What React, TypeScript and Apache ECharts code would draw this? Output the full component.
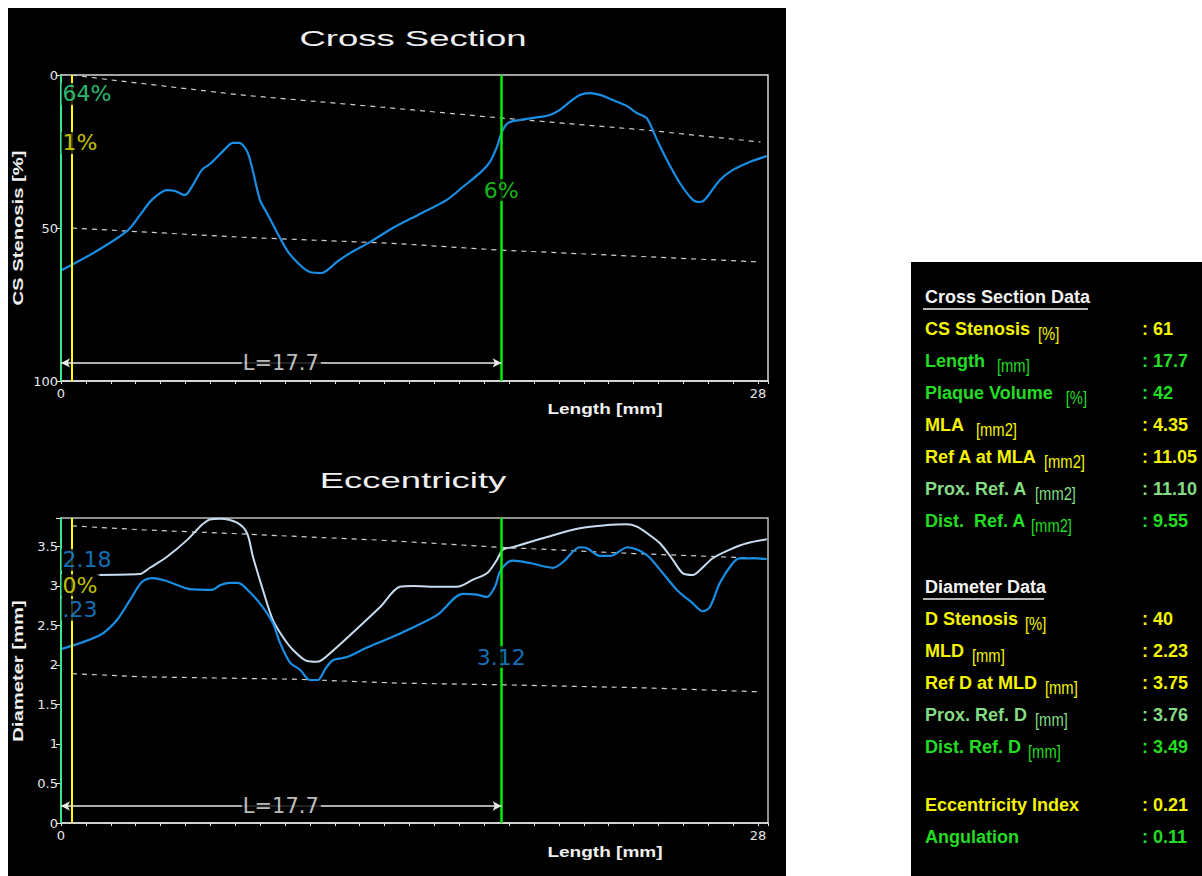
import React, { useEffect, useRef } from 'react';
import * as echarts from 'echarts';

// ---------------- DATA ----------------
// Cross Section chart: [length mm, CS stenosis %]
const csStenosisProfile: [number, number][] = [
  [0, 63.9], [1.29, 58.2], [2.65, 51.0], [3.17, 45.8], [3.65, 40.8], [4.26, 37.6], [4.58, 37.9], [4.98, 39.2],
  [5.30, 35.9], [5.66, 31.0], [5.98, 29.1], [6.47, 25.2], [6.91, 22.2], [7.15, 22.2], [7.51, 25.5], [7.99, 40.8],
  [8.27, 45.1], [8.80, 53.3], [9.12, 57.8], [9.60, 62.1], [10.00, 64.4], [10.48, 64.7], [10.80, 63.1], [11.08, 61.1],
  [11.61, 58.2], [12.41, 54.6], [13.33, 50.0], [14.42, 45.4], [15.50, 40.8], [16.14, 36.6], [16.83, 32.0], [17.23, 28.4],
  [17.51, 23.5], [17.71, 18.6], [17.95, 15.7], [18.43, 14.7], [19.24, 13.7], [19.64, 13.1], [20.04, 11.4], [20.44, 8.8],
  [20.84, 6.5], [21.24, 5.9], [21.65, 6.5], [22.17, 8.2], [22.73, 10.1], [23.13, 12.4], [23.53, 14.1], [23.94, 21.2],
  [24.34, 27.8], [24.86, 35.3], [25.38, 40.8], [25.66, 41.5], [25.86, 40.8], [26.47, 34.3], [26.99, 31.0], [27.67, 28.4],
  [28.35, 26.5],
];
const csRefUpper: [number, number][] = [[0.44, 0], [2.0, 1.6], [7.2, 6.5], [13.3, 10.8], [17.6, 14.0], [23.5, 18.0], [28.1, 21.9]];
const csRefLower: [number, number][] = [[0.44, 50], [2.65, 51], [7.2, 53], [13.3, 55], [17.6, 57.2], [23.0, 59.2], [28.1, 61.1]];

// Eccentricity chart: [length mm, diameter mm]
const maxDiameterProfile: [number, number][] = [
  [1.45, 3.14], [3.17, 3.15], [3.57, 3.23], [4.26, 3.37], [5.06, 3.58], [5.58, 3.75], [5.98, 3.84], [6.39, 3.85],
  [7.07, 3.80], [7.47, 3.67], [7.71, 3.37], [8.11, 2.95], [8.51, 2.57], [8.92, 2.35], [9.32, 2.19], [9.88, 2.05],
  [10.28, 2.04], [10.60, 2.09], [12.81, 2.73], [13.61, 2.99], [14.14, 3.00], [14.82, 2.99], [15.90, 2.99], [16.55, 3.08],
  [17.11, 3.16], [17.51, 3.33], [17.75, 3.46], [18.15, 3.49], [19.52, 3.62], [20.84, 3.73], [21.93, 3.77], [22.73, 3.78],
  [23.13, 3.75], [23.53, 3.67], [24.06, 3.54], [24.58, 3.33], [24.98, 3.16], [25.38, 3.14], [25.66, 3.20], [26.18, 3.35],
  [26.87, 3.46], [27.55, 3.54], [28.35, 3.59],
];
const minDiameterProfile: [number, number][] = [
  [0, 2.20], [1.57, 2.38], [2.25, 2.57], [2.77, 2.82], [3.25, 3.05], [3.69, 3.10], [4.26, 3.06], [5.18, 2.96],
  [6.06, 2.95], [6.39, 3.01], [6.79, 3.04], [7.11, 3.04], [7.59, 2.92], [8.11, 2.73], [8.51, 2.53], [8.80, 2.28],
  [9.20, 2.03], [9.60, 1.94], [10.00, 1.81], [10.32, 1.81], [10.60, 1.94], [10.92, 2.06], [11.49, 2.10], [12.29, 2.22],
  [13.21, 2.34], [13.90, 2.44], [15.10, 2.63], [16.14, 2.90], [16.71, 2.89], [17.11, 2.86], [17.43, 2.99], [17.63, 3.18],
  [17.91, 3.29], [18.15, 3.32], [18.84, 3.29], [19.76, 3.23], [20.16, 3.30], [20.84, 3.49], [21.12, 3.48], [21.65, 3.38],
  [22.05, 3.38], [22.77, 3.49], [23.53, 3.39], [24.18, 3.16], [24.74, 2.95], [25.38, 2.78], [25.78, 2.68], [26.06, 2.73],
  [26.47, 3.04], [26.99, 3.29], [27.27, 3.35], [27.95, 3.35], [28.35, 3.34],
];
const diamRefUpper: [number, number][] = [[0.44, 3.76], [3.3, 3.71], [6.4, 3.67], [12.8, 3.58], [17.6, 3.49], [23.0, 3.41], [28.1, 3.35]];
const diamRefLower: [number, number][] = [[0.44, 1.89], [3.3, 1.85], [9.32, 1.82], [13.6, 1.77], [17.6, 1.75], [23.5, 1.71], [28.1, 1.66]];

// markers (mm)
const startMarkerMm = 0;
const proxMarkerMm = 0.44;
const distMarkerMm = 17.7;
const lesionLengthLabel = 'L=17.7';
const csArrowLevel = 94.1;
const diamArrowLevel = 0.215;

// annotations
const csAnnotationTexts = ['64%', '1%', '6%', lesionLengthLabel];
const csAnnotationPos: [number, number][] = [[0, 6.2], [0, 22.2], [17.7, 37.6], [8.85, 94.1]];
const diamAnnotationTexts = ['2.18', '0%', '.23', '3.12', lesionLengthLabel];
const diamAnnotationPos: [number, number][] = [[0, 3.33], [0, 3.01], [0, 2.70], [17.7, 2.10], [8.85, 0.215]];

// tick labels
const xTickLabels = [0, 28];
const csTickLabels = [0, 50, 100];

// data table
const csDataTitle = 'Cross Section Data';
const csDataLabels = ['CS Stenosis', 'Length', 'Plaque Volume', 'MLA', 'Ref A at MLA', 'Prox. Ref. A', 'Dist.  Ref. A'];
const csDataUnits = ['[%]', '[mm]', '[%]', '[mm2]', '[mm2]', '[mm2]', '[mm2]'];
const csDataValues = ['61', '17.7', '42', '4.35', '11.05', '11.10', '9.55'];
const dDataTitle = 'Diameter Data';
const dDataLabels = ['D Stenosis', 'MLD', 'Ref D at MLD', 'Prox. Ref. D', 'Dist. Ref. D'];
const dDataUnits = ['[%]', '[mm]', '[mm]', '[mm]', '[mm]'];
const dDataValues = ['40', '2.23', '3.75', '3.76', '3.49'];
const extraLabels = ['Eccentricity Index', 'Angulation'];
const extraValues = ['0.21', '0.11'];

// ---------------- STYLE ----------------
const BLUE = '#1a8ee4';
const LIGHT = '#c8dcef';
const YELLOW = '#f4f400';
const GREEN = '#1ee61e';
const MINT = '#34e890';
const TGREEN = '#22dd22';
const TLIGHTGREEN = '#84dc84';
const AXIS = '#e6e6e6';
const DASH = '#cfcfcf';

const csRowColors = [YELLOW, TGREEN, TGREEN, YELLOW, YELLOW, TLIGHTGREEN, TGREEN];
const csUnitGaps = [8, 12, 13, 12, 7, 8, 5];
const dRowColors = [YELLOW, YELLOW, YELLOW, TLIGHTGREEN, TGREEN];
const dUnitGaps = [7, 8, 8, 8, 7];
const extraColors = [YELLOW, TGREEN];

const LABEL_FONT = 'bold 18px "Liberation Sans", Arial, sans-serif';
const UNIT_FONT = '18px "Liberation Sans", Arial, sans-serif';

function measure(text: string, font: string): number {
  const ctx = document.createElement('canvas').getContext('2d');
  if (!ctx) return text.length * 9;
  ctx.font = font;
  return ctx.measureText(text).width;
}

function buildTable(): any[] {
  const els: any[] = [];
  const lx = 925;
  const vx = 1142;
  const header = (text: string, y: number) => {
    const w = measure(text, LABEL_FONT);
    els.push({ type: 'text', x: lx, y, z: 10, style: { text, font: LABEL_FONT, fill: '#f4f4f4', textVerticalAlign: 'middle' } });
    els.push({ type: 'line', z: 10, shape: { x1: lx - 2, y1: y + 12, x2: lx + w - 2, y2: y + 12 }, style: { stroke: '#b4b4b4', lineWidth: 2 } });
  };
  const row = (label: string, unit: string | null, value: string, color: string, y: number, gap: number) => {
    els.push({ type: 'text', x: lx, y, z: 10, style: { text: label, font: LABEL_FONT, fill: color, textVerticalAlign: 'middle' } });
    if (unit) {
      const w = measure(label, LABEL_FONT);
      els.push({ type: 'text', x: lx + w + gap, y: y + 4, scaleX: 0.82, z: 10, style: { text: unit, font: UNIT_FONT, fill: color, textVerticalAlign: 'middle' } });
    }
    els.push({ type: 'text', x: vx, y, z: 10, style: { text: ': ' + value, font: LABEL_FONT, fill: color, textVerticalAlign: 'middle' } });
  };
  header(csDataTitle, 297);
  csDataLabels.forEach((l, i) => row(l, csDataUnits[i], csDataValues[i], csRowColors[i], 329 + 32 * i, csUnitGaps[i]));
  header(dDataTitle, 587);
  dDataLabels.forEach((l, i) => row(l, dDataUnits[i], dDataValues[i], dRowColors[i], 619 + 32 * i, dUnitGaps[i]));
  extraLabels.forEach((l, i) => row(l, null, extraValues[i], extraColors[i], 805 + 32 * i, 0));
  return els;
}

function xAxis(gridIndex: number) {
  return {
    type: 'value', gridIndex, min: 0, max: 28.4, interval: 1,
    axisLine: { show: true, onZero: false, lineStyle: { color: AXIS, width: 1.5 } },
    axisTick: { show: true, length: 3, lineStyle: { color: AXIS } },
    axisLabel: {
      color: AXIS, fontSize: 13, fontFamily: 'DejaVu Sans', margin: 6,
      formatter: (v: number) => (xTickLabels.indexOf(v) >= 0 ? String(v) : ''),
    },
    splitLine: { show: false },
  };
}

function dashed(name: string, data: [number, number][], xi: number) {
  return {
    type: 'line', name, xAxisIndex: xi, yAxisIndex: xi, data, symbol: 'none', silent: true, z: 2,
    lineStyle: { color: DASH, width: 1.2, type: [5, 5] },
  };
}

function markers(xi: number, yMin: number, yMax: number, arrowY: number) {
  return [
    {
      type: 'line', name: 'markers' + xi, xAxisIndex: xi, yAxisIndex: xi, data: [], z: 4, silent: true,
      markLine: {
        silent: true, symbol: 'none', animation: false, label: { show: false }, emphasis: { disabled: true },
        data: [
          [{ coord: [startMarkerMm, yMin], lineStyle: { color: MINT, width: 2, type: 'solid' } }, { coord: [startMarkerMm, yMax] }],
          [{ coord: [proxMarkerMm, yMin], lineStyle: { color: '#ffff00', width: 2, type: 'solid' } }, { coord: [proxMarkerMm, yMax] }],
          [{ coord: [distMarkerMm, yMin], lineStyle: { color: '#00ee00', width: 2.5, type: 'solid' } }, { coord: [distMarkerMm, yMax] }],
        ],
      },
    },
    {
      type: 'line', name: 'length' + xi, xAxisIndex: xi, yAxisIndex: xi, data: [], z: 4, silent: true,
      markLine: {
        silent: true, symbol: ['arrow', 'arrow'], symbolSize: [7, 9], animation: false, label: { show: false },
        emphasis: { disabled: true },
        lineStyle: { color: '#e8e8e8', width: 1.5, type: 'solid' },
        data: [[{ coord: [startMarkerMm, arrowY] }, { coord: [distMarkerMm, arrowY] }]],
      },
    },
  ];
}

function annotations(xi: number, texts: string[], pos: [number, number][], colors: string[], positions: string[]) {
  return {
    type: 'scatter', name: 'annotations' + xi, xAxisIndex: xi, yAxisIndex: xi, z: 8, silent: true,
    symbolSize: 1, itemStyle: { color: 'rgba(0,0,0,0)' },
    data: texts.map((t, i) => ({
      name: t,
      value: pos[i],
      label: {
        show: true, formatter: t, color: colors[i], position: positions[i], distance: 0,
        fontSize: t === lesionLengthLabel ? 21 : 22, fontFamily: 'DejaVu Sans',
        backgroundColor: '#000', padding: [0, 2, 0, 1],
      },
    })),
  };
}

export default function App() {
  const ref = useRef<HTMLDivElement>(null);
  useEffect(() => {
    document.body.style.margin = '0';
    if (!ref.current) return;
    const chart = echarts.init(ref.current, null, { renderer: 'svg' });
    const titleFont = '22px "Liberation Sans", Arial, sans-serif';
    const nameFont = 'bold 15px "Liberation Sans", Arial, sans-serif';
    const option: any = {
      animation: false,
      backgroundColor: '#ffffff',
      graphic: [
        { type: 'rect', z: -10, silent: true, shape: { x: 8, y: 8, width: 778, height: 868 }, style: { fill: '#000' } },
        { type: 'rect', z: -10, silent: true, shape: { x: 911, y: 262, width: 291, height: 614 }, style: { fill: '#000' } },
        { type: 'text', x: 413, y: 38, scaleX: 1.66, z: 10, style: { text: 'Cross Section', font: titleFont, fill: '#f0f0f0', textAlign: 'center', textVerticalAlign: 'middle' } },
        { type: 'text', x: 413, y: 480, scaleX: 1.66, z: 10, style: { text: 'Eccentricity', font: titleFont, fill: '#f0f0f0', textAlign: 'center', textVerticalAlign: 'middle' } },
        { type: 'text', x: 605, y: 409, scaleX: 1.27, z: 10, style: { text: 'Length [mm]', font: nameFont, fill: '#f0f0f0', textAlign: 'center', textVerticalAlign: 'middle' } },
        { type: 'text', x: 605, y: 852, scaleX: 1.27, z: 10, style: { text: 'Length [mm]', font: nameFont, fill: '#f0f0f0', textAlign: 'center', textVerticalAlign: 'middle' } },
        { type: 'text', x: 18, y: 228, scaleX: 1.35, rotation: Math.PI / 2, z: 10, style: { text: 'CS Stenosis [%]', font: nameFont, fill: '#f0f0f0', textAlign: 'center', textVerticalAlign: 'middle' } },
        { type: 'text', x: 18, y: 671, scaleX: 1.35, rotation: Math.PI / 2, z: 10, style: { text: 'Diameter [mm]', font: nameFont, fill: '#f0f0f0', textAlign: 'center', textVerticalAlign: 'middle' } },
        ...buildTable(),
      ],
      grid: [
        { left: 61, top: 75, width: 707, height: 306, show: true, backgroundColor: 'transparent', borderColor: '#d8d8d8', borderWidth: 1.5 },
        { left: 61, top: 518, width: 707, height: 305, show: true, backgroundColor: 'transparent', borderColor: '#bdbdbd', borderWidth: 1.5 },
      ],
      xAxis: [xAxis(0), xAxis(1)],
      yAxis: [
        {
          type: 'value', gridIndex: 0, min: 0, max: 100, interval: 50, inverse: true,
          axisLine: { show: true, lineStyle: { color: AXIS, width: 1.5 } },
          axisTick: { show: true, length: 5, lineStyle: { color: AXIS } },
          axisLabel: { color: AXIS, fontSize: 13, fontFamily: 'DejaVu Sans', margin: 3, formatter: (v: number) => (csTickLabels.indexOf(v) >= 0 ? String(v) : '') },
          splitLine: { show: false },
        },
        {
          type: 'value', gridIndex: 1, min: 0, max: 3.86, interval: 0.5,
          axisLine: { show: true, lineStyle: { color: AXIS, width: 1.5 } },
          axisTick: { show: true, length: 5, lineStyle: { color: AXIS } },
          axisLabel: {
            color: AXIS, fontSize: 13, fontFamily: 'DejaVu Sans', margin: 3,
            formatter: (v: number) => (Math.abs(v * 2 - Math.round(v * 2)) < 1e-6 ? String(Math.round(v * 2) / 2) : ''),
          },
          splitLine: { show: false },
        },
      ],
      series: [
        dashed('Proximal reference', csRefUpper, 0),
        dashed('Distal reference', csRefLower, 0),
        {
          type: 'line', name: 'CS Stenosis', xAxisIndex: 0, yAxisIndex: 0, data: csStenosisProfile,
          symbol: 'none', smooth: 0.3, z: 3, lineStyle: { color: BLUE, width: 2.2 },
        },
        ...markers(0, 0, 100, csArrowLevel),
        annotations(0, csAnnotationTexts, csAnnotationPos, [MINT, YELLOW, GREEN, '#f0f0f0'], ['right', 'right', 'inside', 'inside']),

        dashed('Reference D upper', diamRefUpper, 1),
        dashed('Reference D lower', diamRefLower, 1),
        {
          type: 'line', name: 'Max diameter', xAxisIndex: 1, yAxisIndex: 1, data: maxDiameterProfile,
          symbol: 'none', smooth: 0.3, z: 3, lineStyle: { color: LIGHT, width: 2 },
        },
        {
          type: 'line', name: 'Min diameter', xAxisIndex: 1, yAxisIndex: 1, data: minDiameterProfile,
          symbol: 'none', smooth: 0.3, z: 3, lineStyle: { color: BLUE, width: 2.2 },
        },
        ...markers(1, 0, 3.86, diamArrowLevel),
        annotations(1, diamAnnotationTexts, diamAnnotationPos, [BLUE, YELLOW, BLUE, BLUE, '#f0f0f0'], ['right', 'right', 'right', 'inside', 'inside']),
      ],
    };
    chart.setOption(option);
    return () => chart.dispose();
  }, []);
  return <div ref={ref} style={{ width: 1202, height: 876 }} />;
}
